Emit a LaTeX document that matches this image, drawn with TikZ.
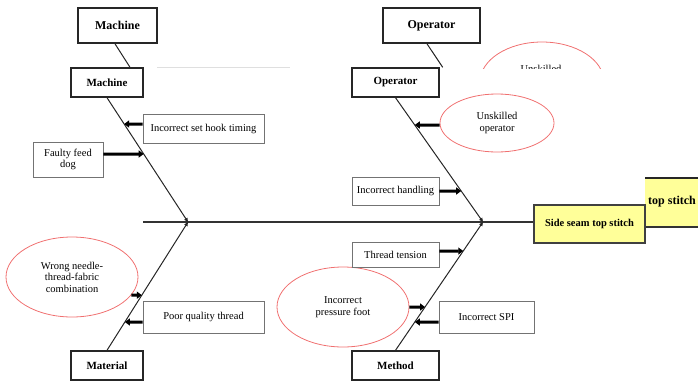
\documentclass[tikz,border=0pt]{standalone}
\usepackage{fontspec}
\setmainfont{Liberation Serif}
\usetikzlibrary{arrows.meta,calc,shapes.geometric}
\definecolor{lightyel}{HTML}{FFFF99}
\definecolor{ellred}{HTML}{F07070}
\begin{document}
\begin{tikzpicture}[x=1pt,y=-1pt,
  head/.style={draw=black!85,line width=1.6pt,font=\bfseries\fontsize{12}{13}\selectfont,inner sep=0pt},
  subhead/.style={draw=black!85,line width=1.4pt,font=\bfseries\fontsize{11}{12}\selectfont,inner sep=0pt},
  cause/.style={draw=black!55,line width=0.9pt,font=\fontsize{10.5}{11.5}\selectfont,inner sep=0pt,align=center},
  causeell/.style={ellipse,draw=ellred,line width=0.8pt,font=\fontsize{10.5}{11.5}\selectfont,inner sep=0pt,align=center},
  bone/.style={line width=1pt,draw=black!85},
  bonetip/.style={bone,-{Triangle[length=4pt,width=3.5pt]}},
  spine/.style={line width=1.5pt,draw=black!80},
  arr/.style={line width=3pt,-{Triangle[length=5pt,width=7pt]}},
]
\useasboundingbox (0,0) rectangle (698,383);

% faint line
\draw[gray!25,line width=0.8pt] (157,67) -- (290,67);

% headings
\node[head,minimum width=79pt,minimum height=35pt] (mach1) at (117.5,25.5) {Machine};
\node[subhead,minimum width=72pt,minimum height=29pt] (mach2) at (107,82.5) {Machine};
\node[subhead,minimum width=72pt,minimum height=29pt] (mat) at (107,365.5) {Material};
\node[head,minimum width=97pt,minimum height=35pt] (op1) at (431.5,25.5) {Operator};
\node[subhead,minimum width=87pt,minimum height=29pt] (op2) at (395.5,82.5) {Operator};
\node[subhead,minimum width=87pt,minimum height=29pt] (meth) at (395.5,365.5) {Method};

% partial copy of effect box
\fill[lightyel] (645,178) rectangle (698,227);
\draw[line width=2pt,black!85] (645,178) -- (698,178);
\draw[line width=1.2pt,black!80] (645,227) -- (698,227);
\node[anchor=west,font=\bfseries\fontsize{12}{13}\selectfont,inner sep=0pt] (eff2) at (648,202) {top stitch};

% effect
\node[draw=black!75,line width=1.4pt,fill=lightyel,minimum width=111pt,minimum height=38pt,font=\bfseries\fontsize{10.5}{11.5}\selectfont,inner sep=0pt] (eff) at (589.5,224) {Side seam top stitch};

% partial top ellipse
\begin{scope}
\clip (470,30) rectangle (620,68);
\node[causeell,minimum width=124pt,minimum height=80pt] (unsk2) at (542,82) {};
\node[font=\fontsize{10.5}{11.5}\selectfont,inner sep=0pt] (unsk2t) at (541,68.5) {Unskilled};
\end{scope}

% causes
\node[causeell,minimum width=114pt,minimum height=58pt] (unsk) at (497,123) {Unskilled\\operator};
\node[causeell,minimum width=132pt,minimum height=80pt] (wrong) at (72,277) {Wrong needle-\\thread-fabric\\combination};
\node[causeell,minimum width=132pt,minimum height=80pt] (press) at (343,307) {Incorrect\\pressure foot};

\node[cause,minimum width=121pt,minimum height=29pt] (hook) at (203.5,128.5) {Incorrect set hook timing};
\node[cause,minimum width=70pt,minimum height=35pt] (feed) at (68,159.5) {Faulty feed\\dog};
\node[cause,minimum width=121pt,minimum height=32pt] (poor) at (203.5,317) {Poor quality thread};
\node[cause,minimum width=87pt,minimum height=28pt] (hand) at (395.5,191) {Incorrect handling};
\node[cause,minimum width=87pt,minimum height=25pt] (tens) at (395.5,254.5) {Thread tension};
\node[cause,minimum width=95pt,minimum height=32pt] (spi) at (486.5,317) {Incorrect SPI};

% spine and bones
\coordinate (J1) at (188,222);
\coordinate (J2) at (483,222);
\coordinate (tail) at (143,222);
\draw[spine] (tail) -- (tail -| eff.west);
\draw[bonetip] (mach2.south) -- (J1);
\draw[bonetip] (mat.north) -- (J1);
\draw[bonetip] (op2.south) -- (J2);
\draw[bonetip] (meth.north) -- (J2);
\draw[bone] ([xshift=-2.5pt]mach1.south) -- ([xshift=23pt]mach2.north);
\draw[bone] ([xshift=-4.5pt]op1.south) -- ([xshift=3pt]op2.north east);

% arrows
\coordinate (hkA) at ([yshift=4.5pt]hook.west);
\coordinate (hkB) at ([yshift=4.5pt]hook.east);
\draw[arr] (hkA) -- (intersection of mach2.south--J1 and hkA--hkB);

\coordinate (fdA) at ([yshift=5.5pt]feed.east);
\coordinate (fdB) at ([yshift=5.5pt]feed.west);
\draw[arr] (fdA) -- (intersection of mach2.south--J1 and fdA--fdB);

\coordinate (wrA) at (wrong.-17);
\coordinate (wrB) at ([xshift=-20pt]wrA);
\draw[arr] (wrA) -- (intersection of mat.north--J1 and wrA--wrB);

\coordinate (prA) at ([yshift=-5pt]poor.west);
\coordinate (prB) at ([yshift=-5pt]poor.east);
\draw[arr] (prA) -- (intersection of mat.north--J1 and prA--prB);

\coordinate (unA) at ([yshift=-2pt]unsk.west);
\coordinate (unB) at ([yshift=-2pt]unsk.east);
\draw[arr] (unA) -- (intersection of op2.south--J2 and unA--unB);

\coordinate (hdA) at (hand.east);
\coordinate (hdB) at (hand.west);
\draw[arr] (hdA) -- (intersection of op2.south--J2 and hdA--hdB);

\coordinate (tsA) at ([yshift=3.5pt]tens.east);
\coordinate (tsB) at ([yshift=3.5pt]tens.west);
\draw[arr] (tsA) -- (intersection of meth.north--J2 and tsA--tsB);

\coordinate (psA) at (press.east);
\coordinate (psB) at (press.west);
\draw[arr] (psA) -- (intersection of meth.north--J2 and psA--psB);

\coordinate (spA) at ([yshift=-5pt]spi.west);
\coordinate (spB) at ([yshift=-5pt]spi.east);
\draw[arr] (spA) -- (intersection of meth.north--J2 and spA--spB);
\end{tikzpicture}
\end{document}
